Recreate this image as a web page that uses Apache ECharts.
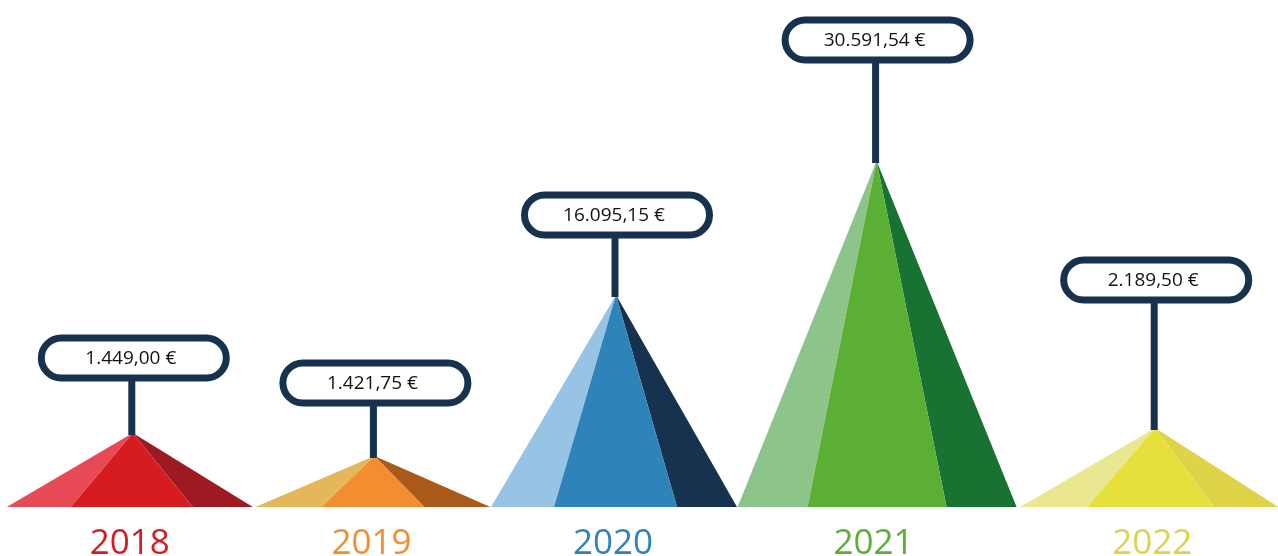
<!DOCTYPE html>
<html>
<head>
<meta charset="utf-8">
<script src="https://cdn.jsdelivr.net/npm/echarts@6/dist/echarts.min.js"></script>
<style>
html,body{margin:0;padding:0;background:#fff;}
#chart{width:1278px;height:556px;}
</style>
</head>
<body>
<div id="chart"></div>
<script>
// ---- data ----
const years = ['2018', '2019', '2020', '2021', '2022'];
const amounts = [1449.00, 1421.75, 16095.15, 30591.54, 2189.50];
const amountLabels = ['1.449,00 €', '1.421,75 €', '16.095,15 €', '30.591,54 €', '2.189,50 €'];
const pyramidHeights = [74, 51, 212, 346, 79];

// ---- styles / layout (not data) ----
const palette = [
  { light: '#E84A55', mid: '#D71C20', dark: '#9E1A22', text: '#D71C20' },
  { light: '#E4B85A', mid: '#F28E2F', dark: '#A95A18', text: '#F28E2F' },
  { light: '#97C4E4', mid: '#2E83B8', dark: '#16324E', text: '#2E83B8' },
  { light: '#8CC48A', mid: '#5BAF35', dark: '#187232', text: '#5BAF35' },
  { light: '#E9E78F', mid: '#E5E03B', dark: '#DFD447', text: '#DDD24E' }
];
// pixel offsets for each pyramid's shape, relative to its apex
const shape = [
  { shift: 5,   l: -126, ml: -62, mr: 60, r: 120, stem: 75 },
  { shift: -9,  l: -119, ml: -53, mr: 50, r: 116, stem: 73 },
  { shift: -23, l: -125, ml: -62, mr: 61, r: 121, stem: 80 },
  { shift: -18, l: -139, ml: -69, mr: 70, r: 140, stem: 121 },
  { shift: 5,   l: -135, ml: -68, mr: 59, r: 123, stem: 148 }
];
const navy = '#16324E';

const chart = echarts.init(document.getElementById('chart'));

const seriesData = years.map((y, i) => [i, pyramidHeights[i], amounts[i]]);

chart.setOption({
  animation: false,
  grid: { left: 0, right: 0, top: 0, bottom: 49, containLabel: false },
  xAxis: {
    type: 'category', data: years,
    axisLine: { show: false }, axisTick: { show: false }, axisLabel: { show: false }, splitLine: { show: false }
  },
  yAxis: {
    type: 'value', min: 0, max: 507,
    show: false
  },
  series: [{
    type: 'custom',
    data: seriesData,
    clip: false,
    renderItem: function (params, api) {
      const i = api.value(0);
      const s = shape[i];
      const c = palette[i];
      const base = api.coord([i, 0]);
      const top = api.coord([i, api.value(1)]);
      const ax = base[0] + s.shift;
      const by = base[1];
      const ay = top[1];
      const boxCy = ay - s.stem;
      const boxW = 185, boxH = 40;
      return {
        type: 'group',
        children: [
          { type: 'polygon', shape: { points: [[ax + s.l, by], [ax + s.ml, by], [ax, ay]] }, style: { fill: c.light } },
          { type: 'polygon', shape: { points: [[ax + s.mr, by], [ax + s.r, by], [ax, ay]] }, style: { fill: c.dark } },
          { type: 'polygon', shape: { points: [[ax + s.ml, by], [ax + s.mr, by], [ax, ay]] }, style: { fill: c.mid } },
          { type: 'line', shape: { x1: ax - 1, y1: ay + 2, x2: ax - 1, y2: boxCy }, style: { stroke: navy, lineWidth: 7 } },
          { type: 'rect', shape: { x: ax + 1 - boxW / 2, y: boxCy - boxH / 2, width: boxW, height: boxH, r: 20 },
            style: { fill: '#fff', stroke: navy, lineWidth: 7 } },
          { type: 'text', x: ax - 2, y: boxCy + 1,
            style: { text: amountLabels[i], fill: '#111', font: '19px "Open Sans", sans-serif', align: 'center', verticalAlign: 'middle' } },
          { type: 'text', x: ax - 3, y: by + 37,
            style: { text: years[i], fill: c.text, font: '35px "Open Sans", sans-serif', align: 'center', verticalAlign: 'middle' } }
        ]
      };
    }
  }]
});
</script>
</body>
</html>
